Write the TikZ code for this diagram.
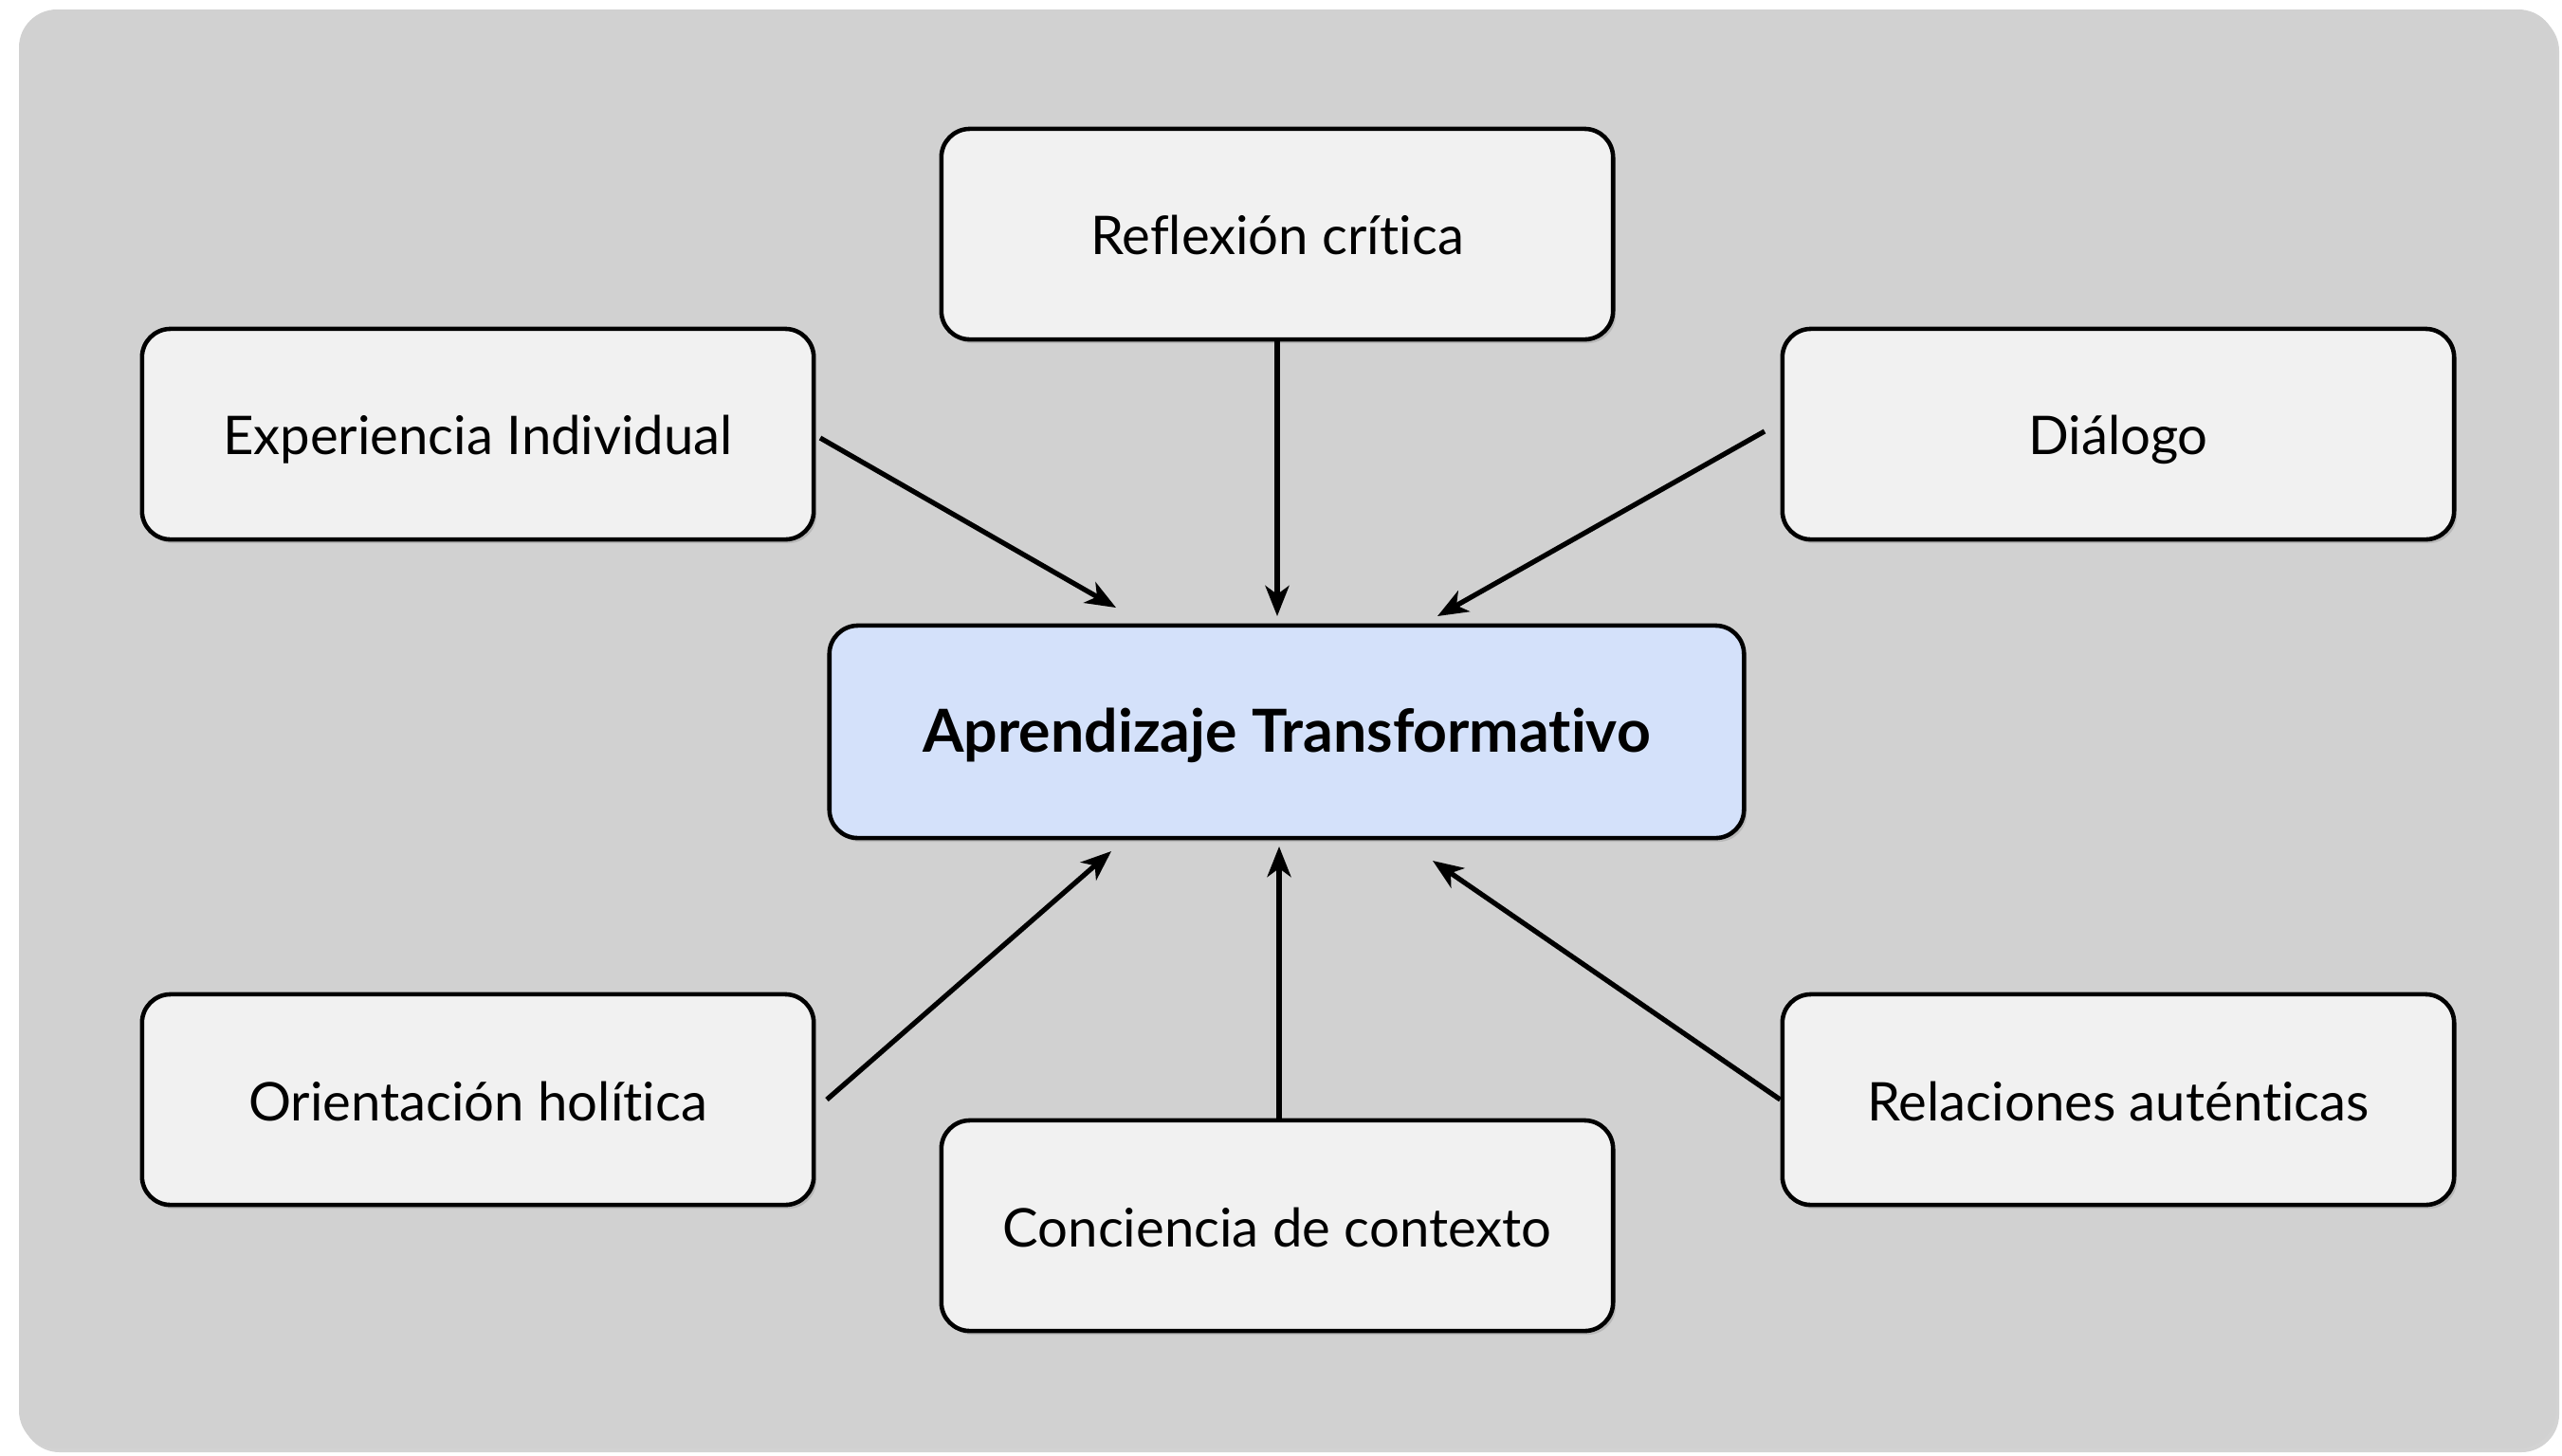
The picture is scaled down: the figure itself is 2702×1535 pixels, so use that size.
\documentclass[tikz,border=0pt]{standalone}
\usepackage{fontspec}
\setmainfont{Lato}[Ligatures={NoCommon}]
\usetikzlibrary{arrows.meta,shadows}
\definecolor{bggray}{HTML}{D1D1D1}
\definecolor{boxfill}{HTML}{F1F1F1}
\definecolor{ctrfill}{HTML}{D4E1FA}
\begin{document}
\begin{tikzpicture}[x=0.01cm,y=-0.01cm,
  box/.style={draw=black, line width=1.3pt, rounded corners=0.3cm, fill=boxfill,
    minimum width=7.08cm, minimum height=2.22cm, inner sep=0pt,
    text height=16pt, text depth=3.5pt,
    font=\fontsize{16}{19}\selectfont,
    drop shadow={opacity=0.3, shadow xshift=0.03cm, shadow yshift=-0.04cm}},
  ctrbox/.style={box, fill=ctrfill, minimum width=9.64cm, minimum height=2.24cm,
    text height=16pt, text depth=4pt,
    font=\fontsize{17.8}{21}\selectfont\bfseries},
  arr/.style={-{Stealth[length=0.32cm,width=0.25cm,inset=0.09cm]}, line width=1.5pt}]
\useasboundingbox (0,0) rectangle (2702,1535);
\fill[bggray, rounded corners=0.4cm, drop shadow={opacity=0.35, shadow xshift=0.03cm, shadow yshift=-0.04cm}] (20,10) rectangle (2696,1528);

\node[box] (ref) at (1347,247) {Reflexión crítica};
\node[box] (exp) at (504,458) {Experiencia Individual};
\node[box] (dia) at (2234,458) {Diálogo};
\node[ctrbox] (ctr) at (1357,772) {Aprendizaje Transformativo};
\node[box] (ori) at (504,1160) {Orientación holítica};
\node[box] (con) at (1347,1293) {Conciencia de contexto};
\node[box] (rel) at (2234,1160) {Relaciones auténticas};

\coordinate (expS) at (865,462);
\coordinate (expT) at (1177,641);
\coordinate (refT) at (1347,650);
\coordinate (diaS) at (1861,455);
\coordinate (diaT) at (1516,650);
\coordinate (oriS) at (872,1160);
\coordinate (oriT) at (1172,898);
\coordinate (conT) at (1349,893);
\coordinate (relT) at (1511,908);

\draw[arr] (expS) -- (expT);
\draw[arr] (ref.south) -- (refT);
\draw[arr] (diaS) -- (diaT);
\draw[arr] (oriS) -- (oriT);
\draw[arr] (con.north -| conT) -- (conT);
\draw[arr] (rel.west) -- (relT);
\end{tikzpicture}
\end{document}
